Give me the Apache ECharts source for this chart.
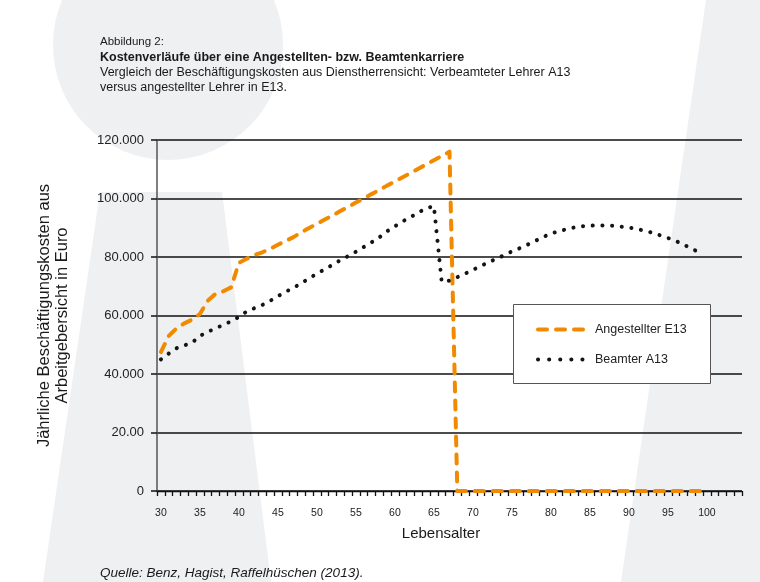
<!DOCTYPE html>
<html><head><meta charset="utf-8">
<script src="https://cdn.jsdelivr.net/npm/echarts@6/dist/echarts.min.js"></script>
<style>html,body{margin:0;padding:0;background:#fff}#c{width:760px;height:582px}</style>
</head><body><div id="c"></div>
<script>
// Categories: ages 30..104 (one per year)
const ages = [];
for (let a = 30; a <= 104; a++) ages.push(String(a));

// Angestellter E13 (ages 30..100)
const angestellter = [
  47500, 53000, 55600, 57300, 58600, 60500, 65000, 67400, 68300, 69600,
  78000, 79400, 80700, 81600, 82800, 84200, 85500, 86800, 88400, 89900,
  91300, 92800, 94200, 95700, 97100, 98600, 100000, 101500, 102900, 104400,
  105800, 107300, 108700, 110200, 111600, 113100, 114500, 116000,
  0, 0, 0, 0, 0, 0, 0, 0, 0, 0, 0, 0, 0, 0, 0, 0, 0, 0, 0, 0, 0, 0,
  0, 0, 0, 0, 0, 0, 0, 0, 0, 0, 0
];

// Beamter A13 (ages 30..99)
const beamter = [
  45000, 47000, 48800, 49800, 50700, 53000, 54400, 55600, 56800, 58000,
  59500, 61400, 62500, 63600, 65000, 66600, 68100, 69500, 71000, 72700,
  74300, 75800, 77300, 78900, 80300, 81800, 83400, 85000, 86700, 88800,
  90500, 92200, 93600, 95200, 96600, 97400, 71500, 71900, 73100, 74300,
  75600, 76900, 78200, 79400, 80600, 81900, 83000, 84200, 85500, 86800,
  88000, 88800, 89500, 90100, 90500, 90700, 90800, 90800, 90700, 90400,
  90100, 89600, 89000, 88300, 87400, 86500, 85500, 84300, 82800, 81700
];

const yTickLabels = ['0', '20.00', '40.000', '60.000', '80.000', '100.000', '120.000'];
const xTickLabels = ['30', '35', '40', '45', '50', '55', '60', '65', '70', '75', '80', '85', '90', '95', '100'];

const seriesNames = ['Angestellter E13', 'Beamter A13'];
const FONT = 'Liberation Sans, Arial, sans-serif';
const ORANGE = '#f18a00';
const DARK = '#141414';

const chart = echarts.init(document.getElementById('c'), null, {renderer: 'canvas'});

chart.setOption({
  animation: false,
  backgroundColor: '#ffffff',
  textStyle: {fontFamily: FONT},
  grid: {left: 157, right: 18, top: 140, bottom: 91, containLabel: false},
  xAxis: {
    type: 'category',
    data: ages,
    boundaryGap: true,
    name: 'Lebensalter',
    nameLocation: 'middle',
    nameGap: 35,
    nameTextStyle: {fontSize: 15, color: '#1a1a1a', fontFamily: FONT, padding: [0, 17, 0, 0]},
    axisLine: {lineStyle: {color: '#111', width: 1.3}},
    axisTick: {show: true, interval: 0, length: 5, lineStyle: {color: '#111', width: 1.3}},
    axisLabel: {
      interval: function (i, v) { return xTickLabels.indexOf(v) >= 0; },
      fontSize: 10.5, color: '#222', margin: 17, fontFamily: FONT
    },
    splitLine: {show: false}
  },
  yAxis: {
    type: 'value',
    min: 0, max: 120000, interval: 20000,
    name: 'Jährliche Beschäftigungskosten aus\nArbeitgebersicht in Euro',
    nameLocation: 'middle',
    nameGap: 85,
    nameTextStyle: {fontSize: 16.5, color: '#1a1a1a', fontFamily: FONT, lineHeight: 18.5},
    axisLine: {show: true, lineStyle: {color: '#555', width: 1.5}},
    axisTick: {show: true, length: 6, lineStyle: {color: '#111', width: 1.5}},
    axisLabel: {
      formatter: function (v) { return yTickLabels[Math.round(v / 20000)]; },
      fontSize: 13, color: '#222', margin: 13, fontFamily: FONT
    },
    splitLine: {show: true, lineStyle: {color: '#111', width: 1.5}}
  },
  legend: {
    orient: 'vertical',
    left: 536, top: 323,
    padding: 0,
    itemWidth: 47, itemHeight: 14, itemGap: 17,
    textStyle: {fontSize: 12.5, color: '#222', fontFamily: FONT, padding: [0, 0, 0, 5]},
    data: [
      {name: seriesNames[0], itemStyle: {opacity: 0}, lineStyle: {color: ORANGE, width: 4, type: [9, 9], cap: 'round'}},
      {name: seriesNames[1], itemStyle: {opacity: 0}, lineStyle: {color: DARK, width: 4, type: [0.1, 11], cap: 'round'}}
    ]
  },
  series: [
    {
      name: seriesNames[0], type: 'line', data: angestellter,
      symbol: 'none', showSymbol: false,
      itemStyle: {color: ORANGE},
      lineStyle: {color: ORANGE, width: 4, type: [9, 9], cap: 'round', join: 'round'},
      z: 3
    },
    {
      name: seriesNames[1], type: 'line', data: beamter,
      symbol: 'none', showSymbol: false,
      itemStyle: {color: DARK},
      lineStyle: {color: DARK, width: 4, type: [0.1, 9.6], cap: 'round', join: 'round'},
      z: 3
    }
  ],
  graphic: [
    {type: 'circle', z: -10, silent: true, shape: {cx: 168, cy: 45, r: 115}, style: {fill: '#eff0f2'}},
    {type: 'polygon', z: -10, silent: true, shape: {points: [[100, 192], [222, 192], [271, 582], [43, 582]]}, style: {fill: '#eff0f2'}},
    {type: 'polygon', z: -10, silent: true, shape: {points: [[706, 0], [760, 0], [760, 582], [621, 582]]}, style: {fill: '#eff0f2'}},
    {type: 'rect', z: 3, silent: true, shape: {x: 513.5, y: 304.5, width: 197, height: 79}, style: {fill: '#fff', stroke: '#555', lineWidth: 1}},
    {type: 'text', z: 5, left: 100, top: 35.5, style: {text: 'Abbildung 2:', font: '11.5px ' + FONT, fill: '#1a1a1a'}},
    {type: 'text', z: 5, left: 100, top: 51.5, style: {text: 'Kostenverläufe über eine Angestellten- bzw. Beamtenkarriere', font: 'bold 12.5px ' + FONT, fill: '#1a1a1a'}},
    {type: 'text', z: 5, left: 100, top: 66.5, style: {text: 'Vergleich der Beschäftigungskosten aus Dienstherrensicht: Verbeamteter Lehrer A13', font: '12.5px ' + FONT, fill: '#1a1a1a'}},
    {type: 'text', z: 5, left: 100, top: 81.5, style: {text: 'versus angestellter Lehrer in E13.', font: '12.5px ' + FONT, fill: '#1a1a1a'}},
    {type: 'text', z: 5, left: 100, top: 566, style: {text: 'Quelle: Benz, Hagist, Raffelhüschen (2013).', font: 'italic 13.5px ' + FONT, fill: '#1a1a1a'}}
  ]
});
</script>
</body></html>
